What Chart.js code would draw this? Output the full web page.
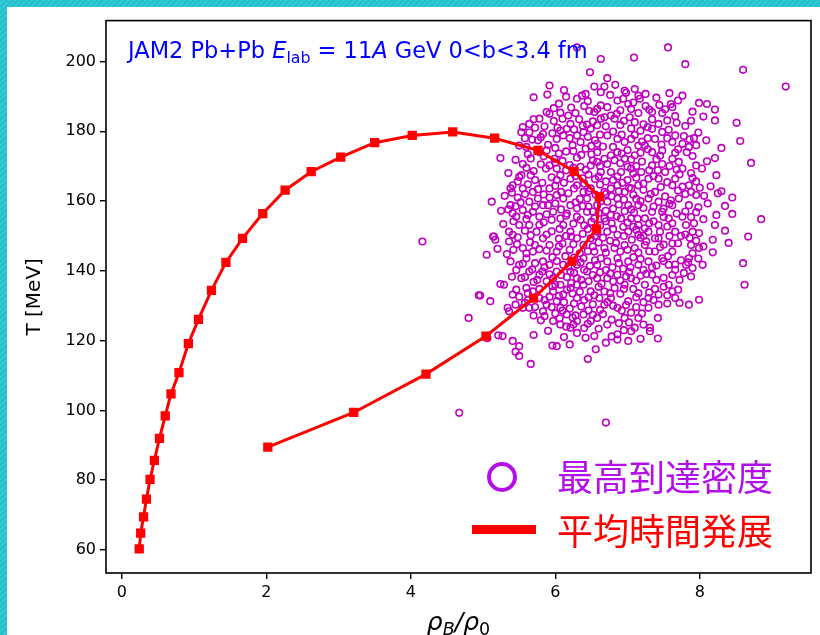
<!DOCTYPE html>
<html lang="ja">
<head>
    <meta charset="UTF-8">
    <title>JAM2 Pb+Pb</title>
    <style>
        html, body {
            margin: 0;
            padding: 0;
            width: 820px;
            height: 635px;
            overflow: hidden;
            background: repeating-linear-gradient(135deg, #21c1cb 0 2px, #35cad3 2px 4px);
        }
        #card {
            position: absolute;
            left: 7px;
            top: 7px;
            width: 813px;
            height: 628px;
            background: #ffffff;
        }
    </style>
    <script src="https://cdn.jsdelivr.net/npm/chart.js"></script>
</head>
<body>
    <div id="card">
        <canvas id="chart" width="813" height="628"></canvas>
    </div>

    <script>
        // axis ticks
        const xTicks = [0, 2, 4, 6, 8];
        const yTicks = [60, 80, 100, 120, 140, 160, 180, 200];

        // time evolution of the average (rho_B/rho_0, T)
        const lineRho = [0.24, 0.26, 0.30, 0.34, 0.39, 0.45, 0.52, 0.60, 0.68, 0.79, 0.92, 1.06, 1.24, 1.44, 1.67,
            1.95, 2.26, 2.62, 3.03, 3.50, 4.02, 4.58, 5.16, 5.76, 6.26, 6.61, 6.57, 6.23, 5.70, 5.04, 4.21, 3.21, 2.02];
        const lineT = [60.3, 64.8, 69.5, 74.6, 80.2, 85.7, 92.0, 98.4, 104.7, 110.8, 119.1, 126.1, 134.4, 142.4, 149.3,
            156.4, 163.1, 168.4, 172.6, 176.7, 178.8, 179.8, 178.0, 174.5, 168.5, 161.2, 152.0, 142.7, 132.2, 121.3, 110.4, 99.4, 89.5];

        // maximum reached density per event [rho_B/rho_0, T]
        const peakPoints = [
            [6.30,204.0],[6.63,200.7],[7.09,201.1],[7.56,204.0],[7.80,199.2],[8.60,197.6],[9.19,192.8],[6.48,196.9],
            [6.72,195.2],[6.83,193.3],[6.54,192.8],[6.68,192.8],[6.63,191.2],[6.96,191.6],[6.98,191.0],[7.10,192.1],
            [7.25,190.7],[7.58,190.9],[7.76,190.2],[5.92,193.1],[5.89,190.5],[5.70,189.7],[6.15,189.9],[6.42,190.7],
            [6.37,190.2],[6.30,189.3],[7.99,188.1],[8.10,187.8],[8.21,186.2],[8.05,184.2],[8.21,183.1],[8.51,182.4],
            [8.56,177.2],[8.09,177.4],[7.90,172.9],[8.21,172.3],[8.03,169.3],[8.23,167.4],[8.71,170.9],[7.44,187.5],
            [7.60,187.8],[7.62,186.9],[7.34,185.5],[7.48,185.2],[7.66,184.3],[7.05,186.4],[7.15,185.2],[7.03,184.0],
            [7.10,182.6],[7.34,183.4],[7.43,182.1],[7.34,180.7],[7.57,180.4],[7.66,178.8],[7.62,176.9],[7.76,176.4],
            [7.85,175.5],[7.86,177.7],[7.48,174.5],[7.62,172.1],[7.71,171.2],[7.76,169.3],[7.52,168.3],[7.34,170.2],
            [7.43,166.4],[7.62,164.5],[7.76,164.1],[7.85,164.5],[7.95,161.7],[8.06,161.5],[8.11,159.3],[8.25,162.2],
            [8.30,162.8],[8.35,158.6],[8.23,156.0],[8.21,153.1],[8.18,148.9],[8.18,145.3],[8.04,141.7],[7.99,146.5],
            [7.88,147.4],[7.90,151.2],[7.99,150.8],[7.81,153.1],[7.76,155.5],[7.85,158.8],[7.71,160.7],[7.62,158.8],
            [7.48,156.9],[7.57,155.0],[7.66,151.2],[7.62,145.5],[7.48,143.6],[7.57,141.7],[7.66,140.3],[7.81,141.7],
            [7.85,143.6],[7.90,140.8],[7.99,131.7],[7.85,130.3],[7.66,132.2],[7.62,134.1],[7.57,136.0],[7.43,133.2],
            [7.29,132.2],[7.15,133.6],[7.24,136.0],[7.34,138.9],[7.43,130.3],[7.29,129.4],[7.15,126.5],[7.10,123.7],
            [7.05,122.7],[6.96,126.5],[6.86,129.4],[6.77,132.2],[7.01,131.3],[6.86,121.8],[6.86,120.3],[7.01,119.9],
            [7.31,123.7],[7.31,122.7],[6.58,126.5],[6.49,125.6],[6.39,127.5],[6.30,125.6],[6.25,124.6],[6.21,123.7],
            [6.30,122.2],[6.42,120.8],[6.54,121.3],[6.16,127.5],[6.07,129.4],[6.02,131.3],[5.97,134.1],[6.11,133.2],
            [6.21,135.1],[6.30,132.2],[6.39,136.0],[6.49,134.1],[6.61,132.2],[6.68,130.3],[6.02,118.4],[5.41,119.9],
            [5.50,118.4],[5.27,121.3],[5.34,129.4],[5.36,128.4],[5.41,133.2],[5.29,136.0],[5.53,137.9],[5.60,135.1],
            [5.64,139.8],[5.50,141.7],[5.60,143.6],[5.69,145.5],[5.55,146.5],[5.38,142.7],[5.41,150.3],[5.36,148.4],
            [5.15,149.8],[5.17,148.9],[5.05,144.6],[5.36,151.2],[5.50,153.1],[5.46,155.5],[5.55,157.4],[5.38,158.8],
            [5.41,156.5],[5.69,156.9],[5.78,155.5],[5.64,153.1],[5.74,151.2],[5.83,149.3],[5.92,147.4],[6.02,145.5],
            [5.50,166.9],[5.53,167.4],[5.41,164.5],[5.38,163.6],[5.55,163.6],[5.69,162.6],[5.76,160.7],[5.64,159.8],
            [5.83,158.8],[5.97,156.9],[6.07,155.0],[5.92,170.2],[6.02,169.3],[6.07,167.4],[6.21,166.4],[6.30,164.5],
            [6.39,162.6],[5.99,172.1],[5.88,174.5],[5.76,177.4],[5.78,174.0],[5.60,175.5],[5.50,175.9],[5.64,179.7],
            [5.53,179.7],[5.55,181.2],[5.64,182.1],[5.78,183.6],[5.88,185.5],[5.92,185.0],[6.07,185.3],[6.18,184.5],
            [6.21,182.1],[6.16,180.7],[6.07,180.2],[6.02,177.8],[6.11,178.8],[6.30,178.8],[6.35,176.9],[6.42,175.0],
            [6.39,179.7],[6.49,180.7],[6.58,181.7],[6.63,183.6],[6.68,184.0],[6.77,184.5],[6.82,183.6],[6.54,185.5],
            [6.58,186.4],[6.63,187.4],[6.72,186.9],[6.86,188.8],[6.94,189.3],[7.01,187.8],[7.15,190.2],[7.17,189.3],
            [6.72,178.8],[6.86,177.8],[6.96,176.9],[7.05,177.8],[7.15,175.9],[7.24,175.9],[7.34,174.0],[7.10,173.1],
            [6.96,172.1],[6.86,174.0],[6.77,173.1],[6.68,172.1],[6.58,171.2],[6.49,170.2],[6.63,168.3],[6.77,168.3],
            [6.91,168.3],[7.05,169.3],[7.19,168.3],[7.29,166.4],[7.15,164.5],[7.05,163.6],[6.96,162.6],[6.86,164.5],
            [6.77,163.6],[6.68,162.6],[6.49,163.6],[6.44,160.7],[6.58,158.8],[6.72,159.8],[6.86,160.7],[7.01,158.8],
            [7.15,158.8],[7.29,160.7],[7.38,162.6],[7.43,159.8],[7.34,156.9],[7.24,155.0],[7.15,153.1],[7.05,155.0],
            [6.91,155.0],[6.77,156.0],[6.68,155.0],[6.54,155.0],[6.44,156.9],[6.30,157.9],[6.21,158.8],[6.11,160.7],
            [6.02,161.7],[5.92,163.6],[6.11,153.1],[6.21,151.2],[6.30,149.3],[6.39,147.4],[6.49,149.3],[6.58,151.2],
            [6.72,151.2],[6.86,150.3],[7.01,151.2],[7.15,150.3],[7.29,151.2],[7.43,153.1],[7.38,149.3],[7.24,147.4],
            [7.10,146.5],[6.96,147.4],[6.82,146.5],[6.68,146.5],[6.54,145.5],[6.39,143.6],[6.30,141.7],[6.21,139.8],
            [6.11,141.7],[6.02,139.8],[5.92,141.7],[5.83,142.7],[5.78,138.9],[5.88,137.0],[5.97,137.9],[6.07,136.0],
            [6.30,137.9],[6.44,139.8],[6.58,141.7],[6.72,142.7],[6.86,143.6],[7.01,142.7],[7.15,141.7],[7.29,142.7],
            [7.38,145.5],[7.43,149.3],[6.72,137.9],[6.86,138.9],[6.96,136.0],[7.05,137.9],[6.68,134.1],[6.82,135.1],
            [6.58,137.9],[5.88,130.3],[5.78,132.2],[5.69,134.1],[5.83,128.4],[5.97,125.6],[6.07,124.6],[5.64,129.4],
            [5.55,129.4],[5.45,130.3],
            [4.16,148.4],[4.80,126.5],[4.96,132.9],[5.12,159.8],[8.85,154.8],[8.67,149.8],[8.60,142.2],[8.62,136.0],
            [5.10,131.3],[5.06,120.7],[5.21,121.5],[5.24,172.3],[5.24,136.2],[5.14,149.8],[4.94,133.0],
            [4.67,99.3],[6.70,96.5],[5.45,116.8],[5.50,115.6],[5.66,113.3],[5.96,118.6],[6.45,114.7],
            // denser core
            [6.05,187.9],[6.22,186.8],[6.45,188.6],[6.90,186.0],[7.25,187.2],[7.70,188.8],[7.90,185.6],[6.12,191.8],
            [6.76,190.4],[7.40,189.6],[5.72,181.0],[5.98,182.9],[6.33,183.4],[6.47,185.8],[6.95,183.0],[7.22,182.0],
            [7.55,183.1],[7.80,181.5],[7.98,179.6],[5.83,179.2],[6.44,181.9],[7.18,180.1],[5.68,177.6],[5.90,176.1],
            [6.24,176.0],[6.55,177.4],[6.66,175.6],[6.80,179.9],[7.00,174.6],[7.28,178.0],[7.47,176.2],[7.70,174.8],
            [7.95,176.0],[8.30,175.2],[6.15,174.2],[6.50,173.4],[5.45,171.8],[5.66,172.2],[5.80,170.5],[6.10,171.5],
            [6.30,172.4],[6.42,168.9],[6.72,170.6],[6.90,170.8],[7.20,171.3],[7.40,172.0],[7.58,170.0],[7.88,168.0],
            [8.10,171.4],[6.58,174.0],[7.05,171.9],[5.35,168.0],[5.60,169.5],[5.72,166.0],[5.95,166.8],[6.15,168.8],
            [6.38,166.5],[6.55,166.3],[6.70,165.6],[6.86,167.0],[7.00,166.0],[7.12,166.7],[7.42,168.8],[7.66,166.4],
            [7.95,165.6],[8.15,164.2],[6.25,169.5],[5.30,161.5],[5.48,161.0],[5.62,164.8],[5.84,161.9],[6.00,164.4],
            [6.18,162.2],[6.34,160.6],[6.56,161.8],[6.62,164.7],[6.78,161.4],[6.95,160.4],[7.08,161.8],[7.22,163.2],
            [7.52,161.3],[7.70,163.0],[7.88,162.6],[8.45,161.0],[6.40,165.0],[5.25,157.2],[5.45,158.5],[5.62,156.0],
            [5.88,156.2],[6.00,159.3],[6.16,156.4],[6.38,158.6],[6.52,157.0],[6.63,159.9],[6.80,157.8],[6.96,157.1],
            [7.09,156.7],[7.22,158.0],[7.50,157.8],[7.68,156.4],[7.95,156.8],[8.05,154.8],[8.45,156.3],[6.35,154.6],
            [5.28,153.4],[5.58,151.5],[5.84,153.9],[5.95,151.3],[6.06,152.0],[6.25,153.5],[6.45,152.0],[6.62,153.0],
            [6.78,153.6],[6.94,152.6],[7.08,152.6],[7.24,152.2],[7.36,154.2],[7.55,152.7],[7.74,150.0],[7.92,153.6],
            [8.35,151.5],[6.15,150.0],[5.20,146.3],[5.47,147.6],[5.65,148.2],[5.78,146.2],[6.10,147.8],[6.20,146.0],
            [6.45,145.6],[6.60,148.1],[6.76,148.6],[6.90,145.5],[7.06,148.9],[7.18,149.5],[7.30,145.6],[7.50,147.5],
            [7.70,147.9],[7.86,149.5],[8.05,147.0],[8.40,148.0],[5.33,144.8],[5.46,140.2],[5.72,142.2],[5.96,143.9],
            [6.14,144.2],[6.26,143.8],[6.48,141.4],[6.63,143.6],[6.79,141.0],[6.94,140.6],[7.08,143.9],[7.22,140.2],
            [7.40,141.5],[7.56,144.2],[7.74,143.0],[7.98,143.5],[6.40,140.3],[5.40,138.3],[5.70,136.8],[5.82,139.8],
            [6.00,136.0],[6.16,138.2],[6.36,137.4],[6.52,138.8],[6.64,136.3],[6.80,137.0],[6.98,138.4],[7.12,137.2],
            [7.26,139.1],[7.50,138.0],[7.72,137.4],[7.88,138.4],[6.22,136.5],[5.50,132.6],[5.62,131.6],[5.92,132.6],
            [6.12,131.0],[6.24,133.5],[6.40,131.6],[6.54,133.0],[6.72,131.0],[6.90,133.4],[7.08,134.8],[7.22,131.0],
            [7.38,134.8],[7.55,133.0],[7.72,130.8],[5.70,127.2],[5.80,125.8],[6.00,127.8],[6.20,129.2],[6.36,129.8],
            [6.46,128.6],[6.66,127.6],[6.78,126.0],[6.92,128.6],[7.05,128.0],[7.20,127.8],[7.42,126.5],[6.28,127.2],
            [5.90,122.8],[6.12,121.0],[6.40,123.6],[6.60,123.4],[6.70,119.4],[6.95,123.0],[7.18,120.5],[6.20,118.9],
            [6.56,117.5],[6.78,121.2],[7.42,120.6],[5.70,121.6],
            // densest part of the cloud
            [5.98,186.6],[6.28,185.2],[6.40,187.2],[6.85,185.0],[7.08,188.2],[7.30,186.2],[7.52,186.3],[6.10,183.6],
            [5.70,183.4],[5.85,181.4],[6.03,181.0],[6.26,180.5],[6.52,182.8],[6.70,181.4],[6.90,181.8],[7.05,180.8],
            [7.28,181.2],[7.48,179.8],[7.68,182.4],[7.88,183.0],[6.38,181.6],[5.58,178.0],[5.80,178.3],[5.96,179.4],
            [6.20,178.0],[6.45,178.4],[6.62,179.0],[6.92,179.0],[7.10,178.9],[7.38,177.8],[7.55,178.0],[7.78,178.6],
            [7.92,178.0],[6.58,176.4],[7.20,177.0],[5.62,173.4],[5.84,172.8],[6.05,173.6],[6.25,174.3],[6.36,173.2],
            [6.50,175.8],[6.80,175.5],[6.92,173.6],[7.18,173.8],[7.28,174.8],[7.45,173.0],[7.66,173.8],[7.82,174.0],
            [6.00,175.2],[5.55,170.6],[5.70,168.6],[5.87,169.3],[6.00,171.0],[6.20,170.3],[6.35,169.8],[6.52,171.6],
            [6.62,170.0],[6.82,171.7],[7.00,169.8],[7.12,170.0],[7.30,168.8],[7.48,170.6],[7.68,169.0],[7.95,170.2],
            [5.48,165.6],[5.66,167.4],[5.82,165.2],[6.02,166.0],[6.12,165.2],[6.28,167.2],[6.46,167.6],[6.60,167.0],
            [6.80,166.0],[6.93,165.2],[7.08,167.9],[7.22,165.0],[7.36,167.2],[7.55,165.4],[7.72,167.7],[7.90,166.6],
            [5.40,162.4],[5.58,162.0],[5.76,163.4],[5.92,161.0],[6.08,162.6],[6.26,163.6],[6.46,162.8],[6.70,162.0],
            [6.88,162.8],[7.02,163.8],[7.12,160.6],[7.32,162.0],[7.46,164.0],[7.60,160.2],[7.80,162.0],[8.00,163.8],
            [5.35,157.6],[5.52,159.6],[5.72,158.4],[5.90,158.8],[6.08,157.6],[6.28,159.6],[6.46,158.4],[6.70,157.2],
            [6.88,159.0],[7.05,157.6],[7.18,160.0],[7.36,158.4],[7.58,159.2],[7.80,157.0],[7.98,158.2],[6.60,156.6],
            [5.42,154.2],[5.60,154.8],[5.78,153.2],[5.95,154.6],[6.15,155.8],[6.30,155.5],[6.50,154.0],[6.70,154.2],
            [6.85,155.6],[7.00,153.8],[7.14,154.9],[7.30,153.6],[7.50,155.4],[7.62,153.6],[7.88,155.4],[6.40,153.0],
            [5.48,149.6],[5.66,150.2],[5.88,150.4],[6.05,149.2],[6.22,149.8],[6.38,150.6],[6.55,150.0],[6.66,149.5],
            [6.80,152.0],[6.95,150.0],[7.12,151.8],[7.22,150.0],[7.45,151.2],[7.58,150.0],[7.80,150.4],[7.95,148.6],
            [5.42,146.0],[5.60,145.0],[5.72,147.4],[5.88,145.8],[6.05,147.0],[6.25,147.6],[6.34,145.0],[6.52,147.0],
            [6.70,145.2],[6.84,148.0],[7.00,146.0],[7.15,145.2],[7.26,148.4],[7.45,146.8],[7.62,147.8],[7.90,145.0],
            [5.55,142.0],[5.68,140.4],[5.85,141.0],[6.02,142.8],[6.18,141.2],[6.35,142.4],[6.55,143.0],[6.70,140.2],
            [6.88,142.2],[7.04,141.0],[7.18,143.4],[7.34,141.0],[7.50,142.8],[7.66,141.8],[7.84,142.4],
            [5.58,138.2],[5.75,137.4],[5.92,139.0],[6.08,138.8],[6.26,139.4],[6.46,137.0],[6.62,139.6],[6.76,139.2],
            [6.90,137.2],[7.02,139.6],[7.18,138.6],[7.40,137.4],[7.62,138.8],[7.78,139.4],[6.30,136.0],
            [5.46,134.6],[5.62,133.6],[5.78,134.8],[5.96,135.6],[6.16,134.6],[6.34,134.0],[6.46,132.4],[6.60,135.4],
            [6.76,133.6],[6.95,134.8],[7.12,132.4],[7.30,133.8],[7.50,135.4],[7.70,134.6],[6.05,132.8],
            [5.58,130.8],[5.72,129.6],[5.95,129.6],[6.10,128.6],[6.26,130.6],[6.52,130.4],[6.62,128.8],[6.80,130.0],
            [6.98,130.2],[7.12,129.6],[7.36,131.6],[7.55,130.6],[5.85,131.6],
            [5.85,127.0],[6.06,126.4],[6.24,126.6],[6.52,127.4],[6.72,124.6],[6.88,125.0],[7.02,125.2],[7.22,124.6],
            [6.45,124.8],[6.15,124.0]
        ];

        const lineData = lineRho.map((x, i) => ({ x: x, y: lineT[i] }));
        const peakData = peakPoints.map(p => ({ x: p[0], y: p[1] }));

        const FONT = "'DejaVu Sans', sans-serif";
        const CJK = "'Noto Sans CJK JP', 'Noto Sans CJK SC', sans-serif";

        // draw a run of text pieces with different styles
        function drawRuns(ctx, runs, x, y, size) {
            runs.forEach(r => {
                const s = size * (r.scale || 1);
                ctx.font = (r.italic ? 'italic ' : '') + s + 'px ' + FONT;
                ctx.fillText(r.text, x, y + (r.dy || 0) * size);
                x += ctx.measureText(r.text).width;
            });
            return x;
        }
        function runsWidth(ctx, runs, size) {
            let w = 0;
            runs.forEach(r => {
                ctx.font = (r.italic ? 'italic ' : '') + size * (r.scale || 1) + 'px ' + FONT;
                w += ctx.measureText(r.text).width;
            });
            return w;
        }

        const decorations = {
            id: 'decorations',
            afterDraw(chart) {
                const ctx = chart.ctx;
                const a = chart.chartArea;
                ctx.save();

                // frame
                ctx.strokeStyle = '#000';
                ctx.lineWidth = 1.6;
                ctx.strokeRect(a.left, a.top, a.right - a.left, a.bottom - a.top);

                // annotation text
                ctx.fillStyle = '#0000ff';
                ctx.textBaseline = 'alphabetic';
                ctx.textAlign = 'left';
                drawRuns(ctx, [
                    { text: 'JAM2 Pb+Pb ' },
                    { text: 'E', italic: true },
                    { text: 'lab', scale: 0.7, dy: 0.2 },
                    { text: ' = 11' },
                    { text: 'A', italic: true },
                    { text: ' GeV 0<b<3.4 fm' }
                ], 121, 51, 22.5);

                // y axis title
                ctx.fillStyle = '#000';
                ctx.save();
                ctx.translate(28, (a.top + a.bottom) / 2);
                ctx.rotate(-Math.PI / 2);
                ctx.textAlign = 'center';
                ctx.textBaseline = 'middle';
                ctx.font = '20px ' + FONT;
                ctx.fillText('T [MeV]', 0, 0);
                ctx.restore();

                // x axis title
                const xr = [
                    { text: 'ρ', italic: true },
                    { text: 'B', italic: true, scale: 0.7, dy: 0.2 },
                    { text: '/', italic: true },
                    { text: 'ρ', italic: true },
                    { text: '0', scale: 0.7, dy: 0.2 }
                ];
                const xs = 25;
                const xw = runsWidth(ctx, xr, xs);
                ctx.textAlign = 'left';
                ctx.textBaseline = 'alphabetic';
                drawRuns(ctx, xr, (a.left + a.right) / 2 - xw / 2, 623, xs);

                // legend
                ctx.strokeStyle = '#b40eea';
                ctx.lineWidth = 4;
                ctx.beginPath();
                ctx.arc(495, 470, 13, 0, Math.PI * 2);
                ctx.stroke();
                ctx.fillStyle = '#ff0000';
                ctx.fillRect(465, 518, 64, 9);

                ctx.font = '36px ' + CJK;
                ctx.textBaseline = 'middle';
                ctx.fillStyle = '#b40eea';
                ctx.fillText('最高到達密度', 550, 470);
                ctx.fillStyle = '#ff0000';
                ctx.fillText('平均時間発展', 550, 524);

                ctx.restore();
            }
        };

        new Chart(document.getElementById('chart').getContext('2d'), {
            type: 'scatter',
            data: {
                datasets: [
                    {
                        label: '平均時間発展',
                        data: lineData,
                        showLine: true,
                        borderColor: '#ff0000',
                        borderWidth: 3,
                        tension: 0,
                        pointStyle: 'rect',
                        pointRadius: 5.5,
                        pointBorderWidth: 1.5,
                        pointBackgroundColor: '#ff0000',
                        pointBorderColor: '#ff0000'
                    },
                    {
                        label: '最高到達密度',
                        data: peakData,
                        showLine: false,
                        pointStyle: 'circle',
                        pointRadius: 3.3,
                        pointBorderWidth: 1.6,
                        pointBorderColor: '#bf00bf',
                        pointBackgroundColor: 'rgba(0,0,0,0)'
                    }
                ]
            },
            options: {
                responsive: false,
                animation: false,
                devicePixelRatio: 1,
                layout: { padding: { top: 11, right: 9, left: 0, bottom: 0 } },
                plugins: {
                    legend: { display: false },
                    tooltip: { enabled: false }
                },
                scales: {
                    x: {
                        type: 'linear',
                        min: -0.22,
                        max: 9.54,
                        afterBuildTicks: s => { s.ticks = xTicks.map(v => ({ value: v })); },
                        afterFit: s => { s.height = 62; },
                        grid: { drawOnChartArea: false, drawTicks: true, tickLength: 6, color: '#000', lineWidth: 1.4 },
                        border: { display: false },
                        ticks: { color: '#000', padding: 4, font: { family: FONT, size: 16 }, maxRotation: 0 }
                    },
                    y: {
                        type: 'linear',
                        min: 53.4,
                        max: 211.7,
                        afterBuildTicks: s => { s.ticks = yTicks.map(v => ({ value: v })); },
                        afterFit: s => { s.width = 99; },
                        grid: { drawOnChartArea: false, drawTicks: true, tickLength: 6, color: '#000', lineWidth: 1.4 },
                        border: { display: false },
                        ticks: { color: '#000', padding: 4, font: { family: FONT, size: 16 } }
                    }
                }
            },
            plugins: [decorations]
        });
    </script>
</body>
</html>
